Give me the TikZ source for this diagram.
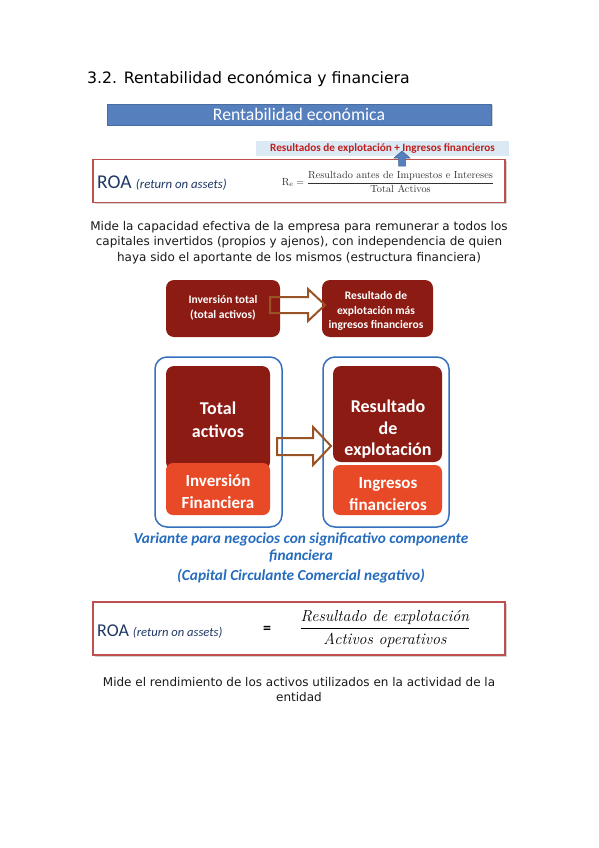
\documentclass[tikz,border=0pt]{standalone}
\usepackage{fontspec}
\newfontfamily\dejavu{DejaVu Sans}
\newfontfamily\calibri{Carlito}
\usetikzlibrary{shadows}
\definecolor{roared}{RGB}{192,80,77}
\definecolor{darkred}{RGB}{140,27,19}
\definecolor{boxorange}{RGB}{232,74,39}
\definecolor{arrowbrown}{RGB}{152,84,38}
\definecolor{panelblue}{RGB}{52,112,190}
\definecolor{textblue}{RGB}{38,108,190}
\definecolor{titlered}{RGB}{192,30,30}
\definecolor{lightblue}{RGB}{218,233,243}
\definecolor{barblue}{RGB}{86,127,190}
\definecolor{navy}{RGB}{31,56,100}
\definecolor{formgray}{RGB}{50,50,50}
\tikzset{
  roabox/.style={draw=roared, line width=1.2pt, fill=white, drop shadow={opacity=0.35, shadow xshift=1.5pt, shadow yshift=-1.5pt}, minimum width=412pt, inner sep=0pt},
  darkbox/.style={fill=darkred, rounded corners=8pt, inner sep=0pt},
  orangebox/.style={fill=boxorange, rounded corners=7pt, inner sep=0pt},
  panel/.style={draw=panelblue, line width=1.5pt, rounded corners=12pt, inner sep=0pt},
  blockarrow/.style={draw=arrowbrown, line width=2pt, line join=miter},
  bodytext/.style={font=\dejavu\fontsize{12}{15.5}\selectfont, text=black!90, align=center},
  whitebold/.style={text=white, align=center, font=\calibri\bfseries\fontsize{18}{23}\selectfont},
  whitereg/.style={text=white, align=center, font=\calibri\bfseries\fontsize{17}{22}\selectfont},
  smallwhite/.style={text=white, align=center, font=\calibri\bfseries\fontsize{11.5}{14.5}\selectfont},
  bluetext/.style={text=textblue, font=\calibri\bfseries\itshape\fontsize{15.3}{17}\selectfont},
}
\begin{document}
\begin{tikzpicture}[x=1pt,y=-1pt]
\useasboundingbox[fill=white] (0,0) rectangle (599,848);

% heading
\node[anchor=base west, inner sep=0pt, font=\dejavu\fontsize{15.7}{18}\selectfont] (head) at (87,84) {3.2. Rentabilidad económica y financiera};

% blue bar
\node[fill=barblue, draw=barblue!85!black, minimum width=384pt, minimum height=21pt, inner sep=0pt,
      drop shadow={opacity=0.35, shadow xshift=1.5pt, shadow yshift=-1.5pt},
      text=white, font=\calibri\fontsize{17.7}{19}\selectfont] (bar) at (299,114.5) {Rentabilidad económica};

% ROA box 1
\node[roabox, minimum height=43pt] (roa1) at (299,181) {};
\node[fill=lightblue, minimum width=253pt, minimum height=14.5pt, inner sep=0pt,
      text=titlered, font=\calibri\bfseries\fontsize{11.2}{12}\selectfont] (sub) at (382.5,148.3) {Resultados de explotación + Ingresos financieros};
\fill[barblue, draw=barblue!80!black, line width=0.5pt] (402,151) -- (410,158) -- (405.5,158) -- (405.5,166) -- (398.5,166) -- (398.5,158) -- (394,158) -- cycle;
\node[anchor=base west, inner sep=0pt, text=navy] (roa1t) at (97,188.5) {\calibri\fontsize{19.5}{21}\selectfont ROA \fontsize{12.8}{14}\selectfont\itshape (return on assets)};
\node[inner sep=0pt, text=formgray] (f1) at (388,182) {\fontsize{10.3}{12}\selectfont$\mathrm{R_e} = \displaystyle\frac{\mbox{Resultado antes de Impuestos e Intereses}}{\mbox{Total Activos}}$};

% paragraph 1
\node[bodytext] (p1) at (299,242.5) {Mide la capacidad efectiva de la empresa para remunerar a todos los\\capitales invertidos (propios y ajenos), con independencia de quien\\haya sido el aportante de los mismos (estructura financiera)};

% small boxes
\node[darkbox, minimum width=114pt, minimum height=57pt] (inv) at (223,308.5) {};
\node[smallwhite] (invt) at (223,308) {Inversión total\\(total activos)};
\node[darkbox, minimum width=111pt, minimum height=57pt] (res) at (377.5,308.5) {};
\node[smallwhite] (rest) at (376,311) {Resultado de\\explotación más\\ingresos financieros};
\draw[blockarrow] (270,297) -- (308,297) -- (308,289) -- (325,305) -- (308,321) -- (308,313) -- (270,313) -- cycle;

% panels
\node[panel, minimum width=127pt, minimum height=170pt] (pl) at (218.5,442) {};
\node[panel, minimum width=126pt, minimum height=170pt] (pr) at (386,442) {};
\node[darkbox, minimum width=104pt, minimum height=104pt] (ta) at (218,418) {};
\node[orangebox, minimum width=104pt, minimum height=52pt] (if) at (218,489) {};
\node[darkbox, minimum width=109pt, minimum height=96pt] (re) at (387.5,414) {};
\node[orangebox, minimum width=109pt, minimum height=50pt] (ig) at (387.5,490) {};
\node[whitebold] (tat) at (218,420) {Total\\activos};
\node[whitereg] (ift) at (218,492) {Inversión\\Financiera};
\node[whitebold, font=\calibri\bfseries\fontsize{18}{21.5}\selectfont] (ret) at (388,429.5) {Resultado\\de\\explotación};
\node[whitereg] (igt) at (388,494) {Ingresos\\financieros};
\draw[blockarrow] (277,438) -- (313,438) -- (313,427) -- (331,446) -- (313,465) -- (313,455) -- (277,455) -- cycle;

% blue italic text
\node[bluetext] (v1) at (301,539) {Variante para negocios con significativo componente};
\node[bluetext] (v2) at (301,556) {financiera};
\node[bluetext] (v3) at (301,576) {(Capital Circulante Comercial negativo)};

% ROA box 2
\node[roabox, minimum height=53pt] (roa2) at (299,628.5) {};
\node[anchor=base west, inner sep=0pt, text=navy] (roa2t) at (97,636) {\calibri\fontsize{18}{20}\selectfont ROA \fontsize{12.6}{14}\selectfont\itshape (return on assets)};
\node[inner sep=0pt, font=\calibri\bfseries\fontsize{16}{18}\selectfont] (eq) at (267,630) {=};
\node[inner sep=0pt] (f2) at (385,629) {\fontsize{16}{19}\selectfont$\displaystyle\frac{\mbox{\itshape Resultado de explotación}}{\mbox{\itshape Activos operativos}}$};

% paragraph 2
\node[bodytext] (p2) at (299,689.5) {Mide el rendimiento de los activos utilizados en la actividad de la\\entidad};
\end{tikzpicture}
\end{document}
